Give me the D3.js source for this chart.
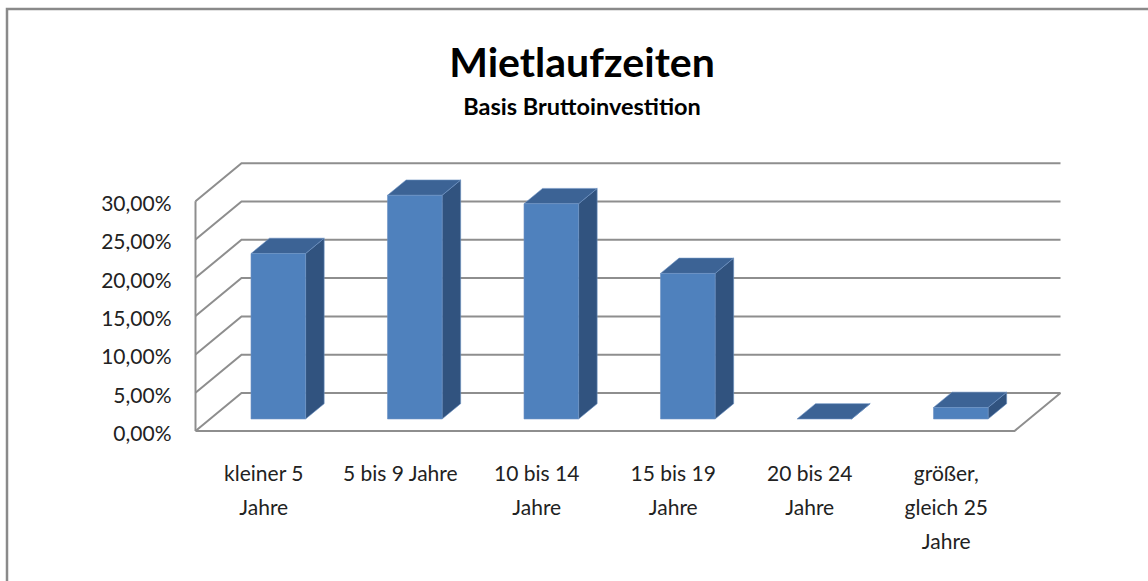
<!DOCTYPE html>
<html>
<head>
<meta charset="utf-8">
<script src="https://cdn.jsdelivr.net/npm/d3@7"></script>
<style>
  html, body { margin: 0; padding: 0; background: #fff; }
  svg { display: block; font-family: Lato, "Liberation Sans", sans-serif; }
</style>
</head>
<body>
<div id="chart"></div>
<script>
// chart data
var categories = ["kleiner 5 Jahre", "5 bis 9 Jahre", "10 bis 14 Jahre", "15 bis 19 Jahre", "20 bis 24 Jahre", "größer, gleich 25 Jahre"];
var labelLines = [["kleiner 5", "Jahre"], ["5 bis 9 Jahre"], ["10 bis 14", "Jahre"], ["15 bis 19", "Jahre"], ["20 bis 24", "Jahre"], ["größer,", "gleich 25", "Jahre"]];
var values = [0.216, 0.292, 0.281, 0.190, 0.0, 0.015];
var yTicks = [0, 0.05, 0.10, 0.15, 0.20, 0.25, 0.30];
var title = "Mietlaufzeiten";
var subtitle = "Basis Bruttoinvestition";

var width = 1148, height = 581;
// 3d depth offset of the plot (oblique projection)
var depthX = 46, depthY = 38;
var barFront = 0.316, barBack = 0.72;

var svg = d3.select("#chart").append("svg")
    .attr("width", width)
    .attr("height", height);

// outer chart border (cut off at right/bottom like the source)
svg.append("rect")
    .attr("x", 7).attr("y", 9)
    .attr("width", 1160).attr("height", 620)
    .attr("fill", "#fff")
    .attr("stroke", "#8a8a8a")
    .attr("stroke-width", 2.5);

svg.append("text")
    .attr("x", 582).attr("y", 77)
    .attr("text-anchor", "middle")
    .attr("font-size", 41)
    .attr("font-weight", "bold")
    .attr("fill", "#000")
    .text(title);
svg.append("text")
    .attr("x", 582).attr("y", 115)
    .attr("text-anchor", "middle")
    .attr("font-size", 23.5)
    .attr("font-weight", "bold")
    .attr("fill", "#000")
    .text(subtitle);

var x = d3.scaleBand()
    .domain(categories)
    .range([195.5, 1014.5])
    .paddingInner(0).paddingOuter(0);
var y = d3.scaleLinear()
    .domain([0, 0.30])
    .range([431, 201.2]);

var locale = d3.formatLocale({ decimal: ",", thousands: ".", grouping: [3], currency: ["", "€"] });
var pct = locale.format(".2%");

function pt(px, py, d) {
    return [px + depthX * d, py - depthY * d];
}
function poly(points) {
    return "M" + points.map(function (p) { return p[0] + "," + p[1]; }).join("L") + "Z";
}

var grid = svg.append("g").attr("class", "grid")
    .attr("fill", "none")
    .attr("stroke", "#8e8e8e")
    .attr("stroke-width", 2);

var x0 = x.range()[0], x1 = x.range()[1];

// back wall gridlines + side wall diagonals
yTicks.forEach(function (t) {
    var a = pt(x0, y(t), 0), b = pt(x0, y(t), 1), c = pt(x1, y(t), 1);
    grid.append("path").attr("d", "M" + a + "L" + b + "L" + c);
});
// front edge of side wall
grid.append("line")
    .attr("x1", x0).attr("x2", x0)
    .attr("y1", y(0.30)).attr("y2", y(0));
// floor front and right edges
var fr = pt(x1, y(0), 1);
grid.append("path").attr("d", "M" + [x0, y(0)] + "L" + [x1, y(0)] + "L" + fr);

// y axis labels
var yAxis = d3.axisLeft(y)
    .tickValues(yTicks)
    .tickFormat(pct)
    .tickSize(0)
    .tickPadding(24);
var yg = svg.append("g")
    .attr("transform", "translate(" + x0 + ",0)")
    .call(yAxis);
yg.select(".domain").remove();
yg.selectAll("text")
    .attr("font-family", "Lato, sans-serif")
    .attr("font-size", 21)
    .attr("fill", "#222")
    .attr("dy", "0.45em");

// bars
var bw = x.bandwidth() * 0.4;
var bars = svg.append("g").attr("class", "bars");
categories.forEach(function (c, i) {
    var cx = x(c) + x.bandwidth() / 2;
    var l = cx - bw / 2, r = cx + bw / 2;
    var yb = y(0), yt = y(values[i]);
    var g = bars.append("g")
        .attr("stroke", "#6f94c4")
        .attr("stroke-width", 0.6)
        .attr("stroke-linejoin", "round");
    // side face
    g.append("path")
        .attr("fill", "#31537f")
        .attr("d", poly([pt(r, yt, barFront), pt(r, yt, barBack), pt(r, yb, barBack), pt(r, yb, barFront)]));
    // top face
    g.append("path")
        .attr("fill", "#3c6395")
        .attr("d", poly([pt(l, yt, barFront), pt(l, yt, barBack), pt(r, yt, barBack), pt(r, yt, barFront)]));
    // front face
    if (values[i] > 0) {
        g.append("path")
            .attr("fill", "#4f81bd")
            .attr("d", poly([pt(l, yt, barFront), pt(r, yt, barFront), pt(r, yb, barFront), pt(l, yb, barFront)]));
    }
});

// category labels
var xl = svg.append("g").attr("class", "x-labels")
    .attr("font-size", 21)
    .attr("fill", "#222")
    .attr("text-anchor", "middle");
categories.forEach(function (c, i) {
    var t = xl.append("text")
        .attr("x", x(c) + x.bandwidth() / 2)
        .attr("y", 481);
    labelLines[i].forEach(function (line, j) {
        t.append("tspan")
            .attr("x", x(c) + x.bandwidth() / 2)
            .attr("y", 481 + j * 34)
            .text(line);
    });
});
</script>
</body>
</html>
